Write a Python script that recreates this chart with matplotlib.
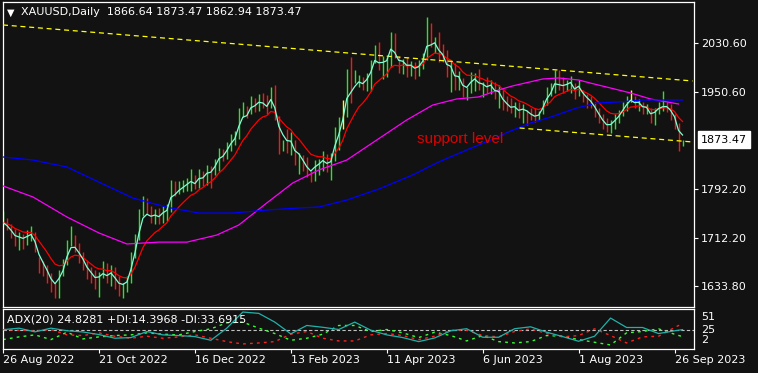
import matplotlib
matplotlib.use("Agg")
import matplotlib.pyplot as plt
import numpy as np
import pandas as pd

BG = "#121212"
UP = "#2fe02f"
DOWN = "#ff1414"

# daily XAUUSD, one bar per two sessions, 26 Aug 2022 .. 28 Sep 2023
highs = [
    1757, 1745, 1735, 1728, 1722, 1720, 1725, 1732, 1722, 1682,
    1675, 1668, 1655, 1640, 1660, 1678, 1710, 1733, 1718, 1705,
    1690, 1675, 1665, 1660, 1658, 1675, 1672, 1668, 1665, 1650,
    1640, 1650, 1690, 1720, 1760, 1782, 1778, 1765, 1760, 1762,
    1765, 1768, 1807, 1805, 1805, 1808, 1810, 1826, 1815, 1825,
    1822, 1832, 1830, 1842, 1860, 1858, 1870, 1882, 1888, 1925,
    1935, 1928, 1945, 1942, 1948, 1950, 1946, 1960, 1962, 1912,
    1872, 1890, 1885, 1872, 1852, 1848, 1845, 1822, 1840, 1842,
    1855, 1850, 1852, 1894, 1910, 1938, 1988, 2008, 1987, 1979,
    1975, 1982, 2003, 2028, 2033, 2010, 2008, 2049, 2047, 2010,
    2005, 2008, 2002, 2000, 2003, 2015, 2073, 2063, 2041, 2049,
    2030, 2020, 2003, 1998, 1985, 1974, 1959, 1984, 1982, 1988,
    1968, 1976, 1970, 1968, 1962, 1954, 1945, 1941, 1935, 1935,
    1932, 1922, 1925, 1925, 1920, 1938, 1960, 1965, 1987, 1987,
    1975, 1970, 1978, 1965, 1970, 1955, 1948, 1945, 1935, 1925,
    1915, 1908, 1905, 1915, 1922, 1935, 1945, 1955, 1945, 1940,
    1935, 1932, 1925, 1925, 1935, 1952, 1935, 1932, 1915, 1900,
    1873.47]
lows = [
    1732, 1725, 1712, 1700, 1693, 1695, 1702, 1708, 1690, 1655,
    1650, 1640, 1625, 1614, 1615, 1650, 1668, 1700, 1690, 1672,
    1660, 1645, 1640, 1630, 1616, 1648, 1640, 1635, 1630, 1618,
    1614, 1625, 1640, 1680, 1710, 1748, 1752, 1738, 1736, 1735,
    1738, 1740, 1755, 1782, 1785, 1788, 1790, 1790, 1792, 1795,
    1797, 1800, 1795, 1815, 1822, 1838, 1842, 1855, 1865, 1875,
    1910, 1908, 1915, 1918, 1920, 1925, 1915, 1925, 1905, 1850,
    1855, 1852, 1848, 1832, 1818, 1822, 1812, 1804, 1805, 1815,
    1822, 1820, 1808, 1838, 1856, 1890, 1910, 1933, 1966, 1959,
    1954, 1952, 1952, 1998, 1987, 1972, 1975, 1992, 2006, 1982,
    1980, 1975, 1978, 1972, 1978, 1988, 2003, 2025, 2015, 2000,
    2000, 1975, 1951, 1954, 1955, 1943, 1938, 1950, 1952, 1955,
    1943, 1950, 1948, 1940, 1925, 1921, 1920, 1916, 1910, 1908,
    1900, 1897, 1905, 1902, 1905, 1915, 1930, 1945, 1950, 1955,
    1950, 1952, 1950, 1940, 1945, 1935, 1925, 1925, 1910, 1900,
    1890, 1885, 1884, 1890, 1900, 1912, 1920, 1935, 1925, 1920,
    1915, 1915, 1900, 1898, 1915, 1920, 1918, 1905, 1890, 1855,
    1862.94]
closes = [
    1738, 1728, 1718, 1708, 1712, 1710, 1718, 1722, 1695, 1665,
    1660, 1648, 1632, 1630, 1655, 1672, 1705, 1712, 1698, 1680,
    1668, 1652, 1648, 1640, 1650, 1660, 1648, 1660, 1640, 1630,
    1635, 1645, 1682, 1715, 1752, 1770, 1758, 1745, 1752, 1745,
    1760, 1762, 1800, 1788, 1797, 1800, 1805, 1810, 1798, 1818,
    1812, 1826, 1822, 1838, 1855, 1850, 1865, 1878, 1883, 1915,
    1925, 1915, 1938, 1932, 1940, 1932, 1922, 1950, 1912, 1865,
    1868, 1862, 1870, 1840, 1845, 1830, 1818, 1815, 1835, 1838,
    1845, 1830, 1840, 1888, 1900, 1930, 1975, 1960, 1970, 1975,
    1962, 1978, 1995, 2022, 1995, 2000, 2005, 2040, 2010, 1990,
    2000, 1988, 1995, 1985, 1995, 2010, 2050, 2030, 2035, 2008,
    2005, 1980, 1990, 1962, 1975, 1948, 1955, 1975, 1978, 1960,
    1962, 1955, 1965, 1945, 1950, 1928, 1925, 1920, 1928, 1915,
    1925, 1918, 1910, 1908, 1915, 1935, 1955, 1958, 1980, 1962,
    1960, 1965, 1970, 1945, 1965, 1940, 1935, 1930, 1918, 1905,
    1895, 1890, 1898, 1910, 1918, 1930, 1940, 1945, 1930, 1935,
    1920, 1925, 1905, 1920, 1930, 1930, 1928, 1915, 1900, 1866,
    1873.47]
doji_bars = [85, 157]

# slow moving averages (magenta, blue)
ma_mid_bars = [0, 7.5, 16, 24, 31, 39, 46, 53.5, 59, 66, 72.5, 79, 86, 93.5,
               101, 107.5, 113.5, 119, 124, 127.5, 135, 139, 144, 147, 152,
               157, 162, 169]
ma_mid = [1797.7, 1779.7, 1747, 1721, 1703, 1706, 1706, 1717.6, 1734, 1770,
          1802.6, 1823.7, 1840, 1872.7, 1905.4, 1929.8, 1939.7, 1943, 1954.4,
          1961, 1972.3, 1974, 1970.7, 1965.6, 1957.6, 1949.5, 1939.7, 1931.5]
ma_long_bars = [0, 7.5, 16, 24, 32.5, 41, 49, 57.5, 66, 74, 79, 86, 94, 102.5,
                109, 116, 122, 127, 132, 137, 143.5, 148.5, 154, 160, 170]
ma_long = [1845, 1840, 1828.6, 1804, 1778, 1763, 1753.5, 1753.5, 1758.4,
           1761.7, 1763.3, 1774.7, 1792.7, 1815.6, 1836.8, 1856.4, 1872.7,
           1887.4, 1900.5, 1910.1, 1924.9, 1933.1, 1934.8, 1938, 1938]

# drawn trend lines
upper_line_bars = [0, 172.5]
upper_line = [2060.5, 1969.1]
lower_line_bars = [129.25, 172.5]
lower_line = [1892.3, 1869.5]

price_ticks = [2030.60, 1950.60, 1792.20, 1712.20, 1633.80]
date_label_bars = [0, 24, 48, 72, 96, 120, 144, 168]
date_labels = ["26 Aug 2022", "21 Oct 2022", "16 Dec 2022", "13 Feb 2023",
               "11 Apr 2023", "6 Jun 2023", "1 Aug 2023", "26 Sep 2023"]

# ADX(20) panel
adx_bars = list(range(0, 169, 4)) + [170]
adx = [24.7, 27.0, 21.5, 27.0, 23.2, 21.3, 17.5, 12.0, 13.0, 22.0, 17.0,
       16.0, 14.5, 9.0, 27.0, 51.0, 49.0, 36.0, 18.5, 31.0, 28.3, 25.0,
       36.0, 24.0, 17.0, 13.0, 7.0, 12.4, 23.0, 26.2, 13.5, 13.5, 26.2,
       29.0, 21.0, 14.5, 7.5, 15.0, 42.0, 28.0, 28.0, 19.0, 23.0, 24.83]
plus_di = [10, 14, 17, 10, 21, 11, 14, 16, 17, 20, 18, 17, 22, 26, 35, 36,
           27, 19, 9, 12, 18, 31, 31, 22, 25, 20, 13, 21, 16, 8, 16, 7, 5, 7,
           16, 15, 10, 6, 2, 20, 22, 26, 18, 14.4]
minus_di = [25, 24, 23, 25, 17, 16, 20, 15, 12, 15, 12, 14, 17, 12, 7, 3.5,
            5, 7, 18, 22, 12, 8, 8, 17, 19, 16, 10, 15, 24, 24, 16, 14, 22,
            26, 19, 14, 16, 26, 16, 5, 14, 15, 28, 33.7]
adx_ticks = [51, 25, 2]

plt.rcParams["font.family"] = "DejaVu Sans"
plt.rcParams["font.size"] = 8

W, H = 758, 373
def box(x0, y0, x1, y1):
    return [x0 / W, 1 - y1 / H, (x1 - x0) / W, (y1 - y0) / H]

fig = plt.figure(figsize=(W / 100, H / 100), dpi=100, facecolor=BG)
ax = fig.add_axes(box(2.5, 2, 694, 307), facecolor=BG)
ax2 = fig.add_axes(box(2.5, 309, 694, 349), facecolor=BG, sharex=ax)

idx = np.arange(len(closes))
c = np.array(closes, dtype=float)
prev = np.r_[c[0], c[:-1]]
cols = np.where(c >= prev, UP, DOWN).astype(object)
for i in doji_bars:
    cols[i] = "#ffff00"
ax.vlines(idx, lows, highs, colors=list(cols), lw=1.0, zorder=2)

s = pd.Series(c)
ax.plot(idx, s.ewm(span=10, adjust=False).mean(), color="#ff0000", lw=0.9, zorder=3)
ax.plot(idx, s.ewm(span=3, adjust=False).mean(), color="#7fffd4", lw=0.9, zorder=4)
ax.plot(ma_mid_bars, ma_mid, color="#ff00ff", lw=0.9, zorder=3)
ax.plot(ma_long_bars, ma_long, color="#0000ff", lw=0.9, zorder=3)
ax.plot(upper_line_bars, upper_line, color="#ffff00", lw=0.9, dashes=(4, 3), zorder=3)
ax.plot(lower_line_bars, lower_line, color="#ffff00", lw=0.9, dashes=(4, 3), zorder=3)

ax.text(114.25, 1874.3, "support level", color="#e00000", fontsize=11,
        family="Liberation Sans", ha="center", va="center")

ax.set_xlim(-0.125, 172.875)
ax.set_ylim(1600.1, 2098.0)
ax.yaxis.tick_right()
ax.set_yticks(price_ticks)
ax.set_yticklabels([f"{v:.2f}" for v in price_ticks])
ax.tick_params(axis="y", colors="white", length=2.6, width=0.8, pad=2.5, labelsize=8)
ax.tick_params(axis="x", bottom=False, labelbottom=False)

ax.text(0.0116, 0.9656, "\u25bc", transform=ax.transAxes, color="white",
        fontsize=7, ha="center", va="center")
ax.text(0.0268, 0.9656, "XAUUSD,Daily  1866.64 1873.47 1862.94 1873.47",
        transform=ax.transAxes, color="white", fontsize=8, ha="left", va="center")

ax.annotate(f"{closes[-1]:.2f}", xy=(1, closes[-1]), xycoords=("axes fraction", "data"),
            xytext=(5, 0), textcoords="offset points", ha="left", va="center",
            fontsize=8, color="black", annotation_clip=False,
            bbox=dict(boxstyle="square,pad=0.3", fc="white", ec="white"))

# ADX panel
ax2.axhline(25, color="#c0c0c0", lw=0.8, dashes=(3, 2), zorder=1)
ax2.plot(adx_bars, plus_di, color="#33ff33", lw=1.0, dashes=(2, 3), zorder=2)
ax2.plot(adx_bars, minus_di, color="#ff2020", lw=1.0, dashes=(2, 3), zorder=2)
ax2.plot(adx_bars, adx, color="#20b2aa", lw=0.9, zorder=3)
ax2.set_ylim(-4, 55.5)
ax2.yaxis.tick_right()
ax2.set_yticks(adx_ticks)
ax2.set_yticklabels([str(v) for v in adx_ticks])
for lbl, va in zip(ax2.get_yticklabels(), ["top", "center", "bottom"]):
    lbl.set_va(va)
ax2.tick_params(axis="y", colors="white", length=0, pad=5, labelsize=8)
ax2.set_xticks(date_label_bars)
ax2.set_xticklabels(date_labels, ha="left")
ax2.tick_params(axis="x", colors="white", length=3, width=0.8, pad=1.5,
                labelsize=8, direction="out")
ax2.text(0.0065, 0.725, "ADX(20) 24.8281 +DI:14.3968 -DI:33.6915",
         transform=ax2.transAxes, color="white", fontsize=8, ha="left", va="center")

for a in (ax, ax2):
    for sp in a.spines.values():
        sp.set_color("white")
        sp.set_linewidth(0.9)

fig.savefig("out.png", dpi=100, facecolor=BG)
